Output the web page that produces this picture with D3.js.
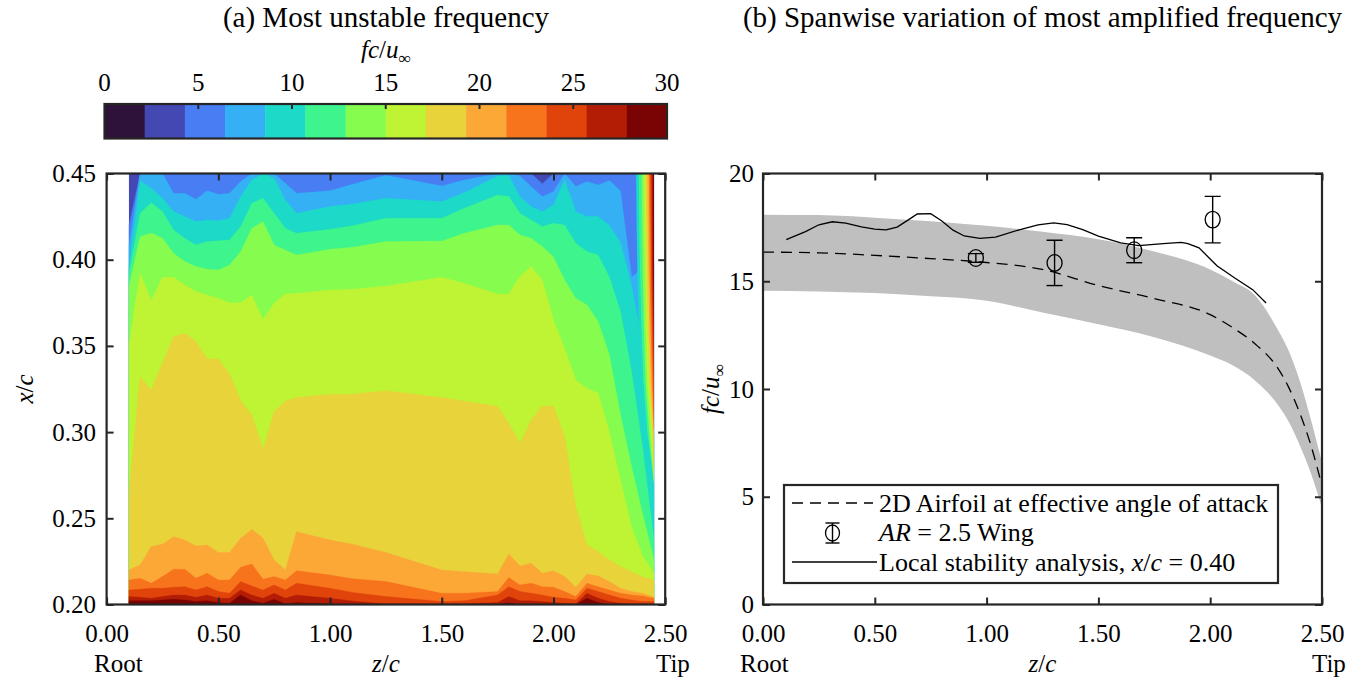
<!DOCTYPE html>
<html><head><meta charset="utf-8">
<script src="https://cdn.jsdelivr.net/npm/d3@7"></script>
<style>
html,body{margin:0;padding:0;background:#fff;}
svg text{font-family:"Liberation Serif","DejaVu Serif",serif;}
</style></head><body>
<svg id="chart" width="1368" height="682" xmlns="http://www.w3.org/2000/svg"></svg>
<script>
// ---------------- DATA ----------------
// colour bar
const colorbarTicks = [0, 5, 10, 15, 20, 25, 30];
const levelColors = ["#2f1239","#4348b2","#487df4","#35b0f5","#1cdac7","#3ef58d","#86fc4f","#bef434","#e8d33b","#fca836","#f7731c","#e0440b","#b41d05","#7a0403"];
const colorbarMax = 30;

// (a) contour map: spanwise stations and x/c where each contour level is crossed
const spanZ = [0.10,0.15,0.20,0.25,0.30,0.35,0.40,0.45,0.50,0.55,0.60,0.65,0.70,0.75,0.80,0.85,1.00,1.10,1.25,1.50,1.60,1.75,1.80,1.85,1.90,1.95,2.00,2.05,2.10,2.15,2.20,2.25,2.30,2.35,2.40,2.45];
const bound02 = [0.420,0.450,0.450,0.450,0.450,0.450,0.450,0.450,0.450,0.450,0.450,0.450,0.450,0.450,0.450,0.450,0.450,0.450,0.450,0.450,0.450,0.450,0.450,0.450,0.450,0.444,0.450,0.450,0.450,0.450,0.450,0.450,0.450,0.450,0.450,0.450];
const bound03 = [0.408,0.450,0.450,0.450,0.4385,0.4385,0.435,0.440,0.438,0.4385,0.4453,0.450,0.450,0.450,0.4443,0.4385,0.440,0.4437,0.449,0.4428,0.4462,0.450,0.450,0.4486,0.4424,0.4366,0.4395,0.450,0.4424,0.4453,0.4433,0.446,0.440,0.390,0.395,0.400];
const bound04 = [0.396,0.4457,0.4414,0.4356,0.4279,0.4250,0.4221,0.4230,0.4226,0.4240,0.4366,0.4462,0.450,0.4472,0.4346,0.4269,0.4308,0.4323,0.4356,0.4337,0.4389,0.4486,0.449,0.4366,0.4308,0.4279,0.4318,0.4462,0.4279,0.4250,0.4250,0.420,0.410,0.385,0.350,0.300];
const bound05 = [0.392,0.4269,0.4331,0.4279,0.4172,0.4124,0.4085,0.4105,0.4110,0.4114,0.4192,0.4327,0.4356,0.4269,0.4182,0.4153,0.4176,0.4197,0.4240,0.4240,0.4298,0.4375,0.4366,0.4269,0.4230,0.4192,0.4211,0.4201,0.4095,0.4047,0.4027,0.390,0.370,0.335,0.290,0.237];
const bound06 = [0.385,0.4134,0.4155,0.4124,0.4037,0.3989,0.3960,0.3944,0.3940,0.3969,0.4047,0.4182,0.4221,0.4085,0.4056,0.4027,0.4060,0.4072,0.4105,0.4109,0.4153,0.4201,0.4201,0.4143,0.4124,0.4076,0.4017,0.3882,0.3776,0.3737,0.3641,0.345,0.310,0.280,0.252,0.226];
const bound07 = [0.3515,0.3921,0.3765,0.3898,0.3898,0.3853,0.3815,0.3795,0.3776,0.3751,0.3751,0.3795,0.3654,0.3747,0.3801,0.3805,0.3824,0.3828,0.3847,0.3898,0.3863,0.3801,0.3801,0.3902,0.3960,0.3882,0.3650,0.3486,0.3302,0.3254,0.3225,0.300,0.272,0.245,0.228,0.218];
const bound08 = [0.265,0.332,0.3244,0.340,0.3554,0.3573,0.3525,0.3424,0.3424,0.334,0.318,0.310,0.290,0.312,0.318,0.320,0.322,0.322,0.324,0.320,0.318,0.315,0.305,0.2935,0.307,0.3151,0.3151,0.2973,0.2567,0.2346,0.2307,0.226,0.222,0.219,0.216,0.214];
const bound09 = [0.220,0.2229,0.2336,0.2349,0.2393,0.2374,0.2340,0.2345,0.2301,0.2301,0.2384,0.2436,0.2384,0.2258,0.2200,0.2422,0.2374,0.235,0.2301,0.2200,0.219,0.2177,0.2293,0.2223,0.2239,0.2181,0.2196,0.2162,0.2100,0.2177,0.2165,0.2133,0.2094,0.2075,0.2065,0.2042];
const bound10 = [0.2142,0.2152,0.2123,0.2162,0.2204,0.2204,0.2152,0.2181,0.2142,0.2142,0.2216,0.2235,0.2146,0.2162,0.2142,0.2196,0.2171,0.215,0.2133,0.2065,0.2065,0.2075,0.2156,0.2113,0.2123,0.2103,0.2100,0.2075,0.2046,0.2123,0.2103,0.2084,0.2065,0.2055,0.2050,0.2036];
const bound11 = [0.2084,0.2088,0.2094,0.2094,0.2100,0.2103,0.2084,0.2103,0.2075,0.2065,0.2133,0.2107,0.2084,0.2113,0.2084,0.2123,0.2094,0.207,0.2046,0.2017,0.2022,0.2055,0.2103,0.2075,0.2065,0.2055,0.2042,0.2036,0.2026,0.2094,0.2075,0.2055,0.2036,0.2026,0.2017,0.2017];
const bound12 = [0.2046,0.2042,0.2036,0.2046,0.2055,0.2055,0.2042,0.2055,0.2036,0.2036,0.2084,0.2055,0.2036,0.2065,0.2036,0.2055,0.2036,0.202,0.2003,0.2003,0.2003,0.2011,0.2046,0.2022,0.2022,0.2017,0.2011,0.2007,0.2003,0.2065,0.2036,0.2017,0.2007,0.2003,0.2003,0.2003];
const bound13 = [0.2022,0.2022,0.2022,0.2026,0.2030,0.2026,0.2017,0.2022,0.2011,0.2007,0.2055,0.2022,0.2007,0.2030,0.2003,0.2011,0.2003,0.2000,0.2000,0.2000,0.2000,0.2000,0.2010,0.2000,0.2000,0.2000,0.2000,0.2000,0.2000,0.2036,0.2011,0.2000,0.2000,0.2000,0.2000,0.2000];
const contourBounds = [bound02,bound03,bound04,bound05,bound06,bound07,bound08,bound09,bound10,bound11,bound12,bound13];

// wing-tip strip: spanwise position where each level is crossed, per x/c row
const tipXc = [0.45,0.42,0.39,0.36,0.33,0.30,0.27];
const tip04 = [2.370,2.372,2.376,2.382,2.392,2.410,2.450];
const tip05 = [2.382,2.384,2.388,2.394,2.402,2.420,2.450];
const tip06 = [2.395,2.397,2.400,2.405,2.412,2.428,2.450];
const tip07 = [2.405,2.407,2.410,2.414,2.420,2.436,2.450];
const tip08 = [2.413,2.415,2.418,2.422,2.428,2.443,2.450];
const tip09 = [2.420,2.422,2.425,2.429,2.435,2.448,2.450];
const tip10 = [2.427,2.429,2.431,2.435,2.441,2.450,2.450];
const tip11 = [2.433,2.435,2.437,2.441,2.446,2.450,2.450];
const tip12 = [2.439,2.440,2.442,2.446,2.450,2.450,2.450];
const tip13 = [2.445,2.445,2.447,2.450,2.450,2.450,2.450];
const tipBounds = [tip04,tip05,tip06,tip07,tip08,tip09,tip10,tip11,tip12,tip13];

// (b) 2D airfoil prediction band
const bandZ     = [0, 0.25, 0.5, 0.75, 1.0, 1.25, 1.5, 1.75, 2.0, 2.1, 2.2, 2.3, 2.35, 2.4, 2.45, 2.5];
const bandUpper = [18.09,18.07,17.95,17.78,17.57,17.30,16.95,16.38,15.55,15.00,14.35,12.80,11.80,10.40,8.60,6.60];
const bandMid   = [16.35,16.32,16.20,16.05,15.87,15.55,14.80,14.20,13.45,12.85,12.10,11.00,10.10,8.90,7.40,5.50];
const bandLower = [14.56,14.53,14.45,14.30,14.10,13.55,13.00,12.40,11.55,11.10,10.40,9.30,8.50,7.40,6.10,4.50];
// local stability analysis, x/c = 0.40
const lsaZ = [0.104,0.19,0.25,0.31,0.37,0.44,0.50,0.55,0.60,0.65,0.69,0.75,0.80,0.85,0.90,0.97,1.04,1.15,1.23,1.30,1.36,1.43,1.50,1.60,1.68,1.79,1.87,1.90,1.95,2.03,2.11,2.19,2.25];
const lsaF = [16.93,17.30,17.62,17.76,17.70,17.52,17.42,17.38,17.51,17.85,18.12,18.14,17.80,17.37,17.10,16.99,17.05,17.40,17.62,17.71,17.63,17.40,17.09,16.78,16.65,16.75,16.80,16.75,16.55,15.72,15.15,14.61,13.99];
// AR = 2.5 wing measurements
const wingZ   = [0.952, 1.304, 1.660, 2.011];
const wingF   = [16.08, 15.85, 16.44, 17.86];
const wingErr = [0.20, 1.05, 0.58, 1.08];

const spanTicks = [0, 0.5, 1.0, 1.5, 2.0, 2.5];
const xcTicks = [0.20, 0.25, 0.30, 0.35, 0.40, 0.45];
const fTicks = [0, 5, 10, 15, 20];

// ---------------- DRAWING ----------------
const FONT = '"Liberation Serif","DejaVu Serif",serif';
const AX = "#262626";
const FS = 25;
const svg = d3.select("#chart");
svg.append("rect").attr("width",1368).attr("height",682).attr("fill","#fff");

const xL = d3.scaleLinear().domain([0,2.5]).range([106.6,665.2]);
const yL = d3.scaleLinear().domain([0.2,0.45]).range([604.5,173.5]);
const xR = d3.scaleLinear().domain([0,2.5]).range([763,1322]);
const yR = d3.scaleLinear().domain([0,20]).range([604.5,173.5]);
const xC = d3.scaleLinear().domain([0,colorbarMax]).range([104.5,667]);
const cbTop = 104, cbBot = 138.5;

const defs = svg.append("defs");
defs.append("clipPath").attr("id","clipL").append("rect")
  .attr("x",xL(0)).attr("y",yL(0.45)).attr("width",xL(2.5)-xL(0)).attr("height",yL(0.2)-yL(0.45));
defs.append("clipPath").attr("id","clipR").append("rect")
  .attr("x",xR(0)).attr("y",yR(20)).attr("width",xR(2.5)-xR(0)).attr("height",yR(0)-yR(20));

function txt(g, x, y, parts, opts={}) {
  const size = opts.size||FS;
  const t = g.append("text").attr("x",x).attr("y",y)
    .attr("font-family",FONT).attr("font-size",size).attr("fill","#000")
    .attr("text-anchor",opts.anchor||"middle");
  if (opts.transform) t.attr("transform",opts.transform);
  parts.forEach(p => {
    const s = t.append("tspan").text(p.t);
    if (p.i) s.attr("font-style","italic");
    if (p.sub) s.attr("font-size",size*0.7).attr("dy",6);
  });
  return t;
}
const fcu = [{t:"fc",i:1},{t:"/"},{t:"u",i:1},{t:"∞",sub:1}];

// ----- (a) contour map -----
const gL = svg.append("g").attr("clip-path","url(#clipL)");
const bandArea = d3.area().x(d=>xL(d.z)).y0(yL(0.2)).y1(d=>yL(d.xc));
gL.append("path").datum(spanZ.map(z=>({z,xc:0.45}))).attr("d",bandArea).attr("fill",levelColors[1]);
contourBounds.forEach((b,i)=>{
  gL.append("path").datum(spanZ.map((z,j)=>({z,xc:b[j]}))).attr("d",bandArea)
    .attr("fill",levelColors[i+2]).attr("stroke",levelColors[i+2]).attr("stroke-width",0.3);
});
const tipArea = d3.area().y(d=>yL(d.xc)).x0(d=>xL(d.z)).x1(xL(2.45));
tipBounds.forEach((t,i)=>{
  gL.append("path").datum(tipXc.map((xc,j)=>({xc,z:t[j]}))).attr("d",tipArea).attr("fill",levelColors[i+4]);
});

function styleAxis(g, labels) {
  g.attr("font-family",FONT).attr("font-size",FS);
  g.select(".domain").remove();
  g.selectAll(".tick line").attr("stroke",AX).attr("stroke-width",2);
  g.selectAll("text").attr("font-family",FONT).attr("font-size",FS).attr("fill","#000");
  if (!labels) g.selectAll("text").remove();
}
function frame(xs, ys, yTicks, yFmt, yPad) {
  const x0 = xs.range()[0], x1 = xs.range()[1], y0 = ys.range()[1], y1 = ys.range()[0];
  const gb = svg.append("g").attr("transform",`translate(0,${y1})`)
    .call(d3.axisBottom(xs).tickValues(spanTicks).tickFormat(d3.format(".2f")).tickSizeInner(-7).tickSizeOuter(0).tickPadding(19.5));
  styleAxis(gb, true);
  const gt = svg.append("g").attr("transform",`translate(0,${y0})`)
    .call(d3.axisTop(xs).tickValues(spanTicks).tickSizeInner(-7).tickSizeOuter(0));
  styleAxis(gt, false);
  const gl = svg.append("g").attr("transform",`translate(${x0},0)`)
    .call(d3.axisLeft(ys).tickValues(yTicks).tickFormat(yFmt).tickSizeInner(-7).tickSizeOuter(0).tickPadding(yPad));
  styleAxis(gl, true);
  const gr = svg.append("g").attr("transform",`translate(${x1},0)`)
    .call(d3.axisRight(ys).tickValues(yTicks).tickSizeInner(-7).tickSizeOuter(0));
  styleAxis(gr, false);
  svg.append("rect").attr("x",x0).attr("y",y0).attr("width",x1-x0).attr("height",y1-y0)
    .attr("fill","none").attr("stroke",AX).attr("stroke-width",2.2);
}
frame(xL, yL, xcTicks, d3.format(".2f"), 10.5);

// colour bar
const gC = svg.append("g");
levelColors.forEach((c,i)=>{
  const a = i*colorbarMax/levelColors.length, b = (i+1)*colorbarMax/levelColors.length;
  gC.append("rect").attr("x",xC(a)).attr("y",cbTop).attr("width",xC(b)-xC(a)+0.4).attr("height",cbBot-cbTop).attr("fill",c);
});
gC.append("rect").attr("x",xC(0)).attr("y",cbTop).attr("width",xC(colorbarMax)-xC(0)).attr("height",cbBot-cbTop)
  .attr("fill","none").attr("stroke",AX).attr("stroke-width",2.2);
colorbarTicks.forEach(v=>{
  if (v>0 && v<colorbarMax) gC.append("line").attr("x1",xC(v)).attr("x2",xC(v)).attr("y1",cbTop).attr("y2",cbTop+5).attr("stroke",AX).attr("stroke-width",2);
  txt(gC, xC(v), 90.5, [{t:String(v)}]);
});
txt(svg, 386, 58, fcu);
txt(svg, 386, 27, [{t:"(a) Most unstable frequency"}], {size:29});
txt(svg, 94, 672, [{t:"Root"}], {anchor:"start"});
txt(svg, 386, 672, [{t:"z",i:1},{t:"/"},{t:"c",i:1}]);
txt(svg, 656, 672, [{t:"Tip"}], {anchor:"start"});
txt(svg, 33, 389, [{t:"x",i:1},{t:"/"},{t:"c",i:1}], {transform:"rotate(-90 33 389)"});

// ----- (b) spanwise variation -----
const gR = svg.append("g").attr("clip-path","url(#clipR)");
const band = bandZ.map((z,i)=>({z, lo:bandLower[i], hi:bandUpper[i], mid:bandMid[i]}));
gR.append("path").datum(band)
  .attr("d", d3.area().x(d=>xR(d.z)).y0(d=>yR(d.lo)).y1(d=>yR(d.hi)).curve(d3.curveMonotoneX))
  .attr("fill","#bfbfbf");
gR.append("path").datum(band)
  .attr("d", d3.line().x(d=>xR(d.z)).y(d=>yR(d.mid)).curve(d3.curveMonotoneX))
  .attr("fill","none").attr("stroke","#000").attr("stroke-width",1.3).attr("stroke-dasharray","11,7");
gR.append("path").datum(lsaZ.map((z,i)=>({z,f:lsaF[i]})))
  .attr("d", d3.line().x(d=>xR(d.z)).y(d=>yR(d.f)))
  .attr("fill","none").attr("stroke","#000").attr("stroke-width",1.3);
wingZ.forEach((z,i)=>{
  const cx = xR(z), top = yR(wingF[i]+wingErr[i]), bot = yR(wingF[i]-wingErr[i]);
  gR.append("line").attr("x1",cx).attr("x2",cx).attr("y1",top).attr("y2",bot).attr("stroke","#000").attr("stroke-width",1.4);
  [top,bot].forEach(y=>gR.append("line").attr("x1",cx-8).attr("x2",cx+8).attr("y1",y).attr("y2",y).attr("stroke","#000").attr("stroke-width",1.4));
  gR.append("ellipse").attr("cx",cx).attr("cy",yR(wingF[i])).attr("rx",7.5).attr("ry",8.3)
    .attr("fill","none").attr("stroke","#000").attr("stroke-width",1.3);
});
frame(xR, yR, fTicks, d3.format("d"), 9);

// legend
const LFS = 26;
const gLeg = svg.append("g");
gLeg.append("rect").attr("x",784).attr("y",485).attr("width",494).attr("height",98)
  .attr("fill","#fff").attr("stroke",AX).attr("stroke-width",2.2);
gLeg.append("line").attr("x1",792).attr("x2",873).attr("y1",503).attr("y2",503)
  .attr("stroke","#000").attr("stroke-width",1.3).attr("stroke-dasharray","11,7");
txt(gLeg, 879, 512, [{t:"2D Airfoil at effective angle of attack"}], {anchor:"start", size:LFS});
gLeg.append("line").attr("x1",832.5).attr("x2",832.5).attr("y1",523).attr("y2",543).attr("stroke","#000").attr("stroke-width",1.4);
[523,543].forEach(y=>gLeg.append("line").attr("x1",825.5).attr("x2",839.5).attr("y1",y).attr("y2",y).attr("stroke","#000").attr("stroke-width",1.4));
gLeg.append("ellipse").attr("cx",832.5).attr("cy",533).attr("rx",7).attr("ry",8).attr("fill","none").attr("stroke","#000").attr("stroke-width",1.3);
txt(gLeg, 879, 541, [{t:"AR",i:1},{t:" = 2.5 Wing"}], {anchor:"start", size:LFS});
gLeg.append("line").attr("x1",792).attr("x2",877).attr("y1",562).attr("y2",562).attr("stroke","#000").attr("stroke-width",1.3);
txt(gLeg, 879, 571, [{t:"Local stability analysis, "},{t:"x",i:1},{t:"/"},{t:"c",i:1},{t:" = 0.40"}], {anchor:"start", size:LFS});

txt(svg, 1042.5, 27, [{t:"(b) Spanwise variation of most amplified frequency"}], {size:29});
txt(svg, 740, 672, [{t:"Root"}], {anchor:"start"});
txt(svg, 1042.5, 672, [{t:"z",i:1},{t:"/"},{t:"c",i:1}]);
txt(svg, 1312, 672, [{t:"Tip"}], {anchor:"start"});
txt(svg, 719, 389, fcu, {transform:"rotate(-90 719 389)"});
</script></body></html>
